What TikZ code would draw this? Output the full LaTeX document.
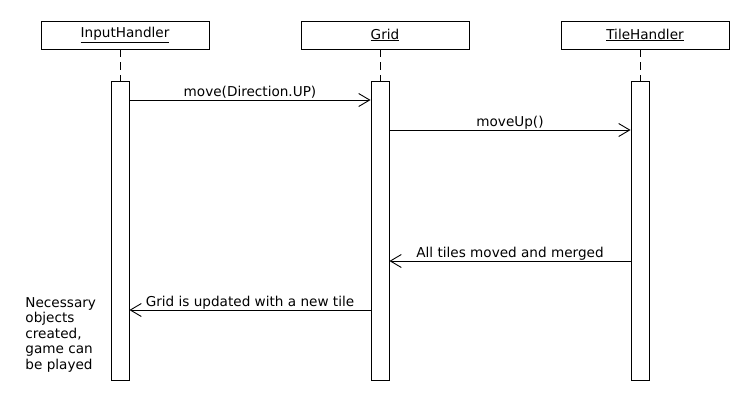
\documentclass[tikz,border=0pt]{standalone}
\usepackage{fontspec}
\setmainfont{DejaVu Sans}
\usetikzlibrary{arrows.meta}
\begin{document}
\begin{tikzpicture}
  [x=1pt,y=-1pt,line width=0.9pt,
   every node/.style={font=\fontsize{13.6}{15.5}\selectfont},
   obj/.style={draw,minimum width=168pt,minimum height=28pt,inner sep=0pt},
   act/.style={draw,fill=white,minimum width=18pt,minimum height=299pt,inner sep=0pt},
   msg/.style={-{Straight Barb[length=11pt,width=13pt]}},
   lbl/.style={anchor=base,yshift=3.5pt,inner sep=0pt}]
  \useasboundingbox (0,0) rectangle (750,400);

  \node[obj] (ih) at (125,35) {\underline{InputHandler}};
  \node[obj] (gr) at (385,35) {\underline{Grid}};
  \node[obj] (th) at (645,35) {\underline{TileHandler}};

  \node[act] (aih) at (120,230.5) {};
  \node[act] (agr) at (380,230.5) {};
  \node[act] (ath) at (640,230.5) {};

  \foreach \o/\a in {ih/aih,gr/agr,th/ath}
    \draw[dash pattern=on 8pt off 5pt] (\o.south -| \a) -- (\a.north);

  \draw[msg] (aih.east |- 0,100) -- node[lbl] {move(Direction.UP)} (agr.west |- 0,100);
  \draw[msg] (agr.east |- 0,130) -- node[lbl] {moveUp()} (ath.west |- 0,130);
  \draw[msg] (ath.west |- 0,261) -- node[lbl] {All tiles moved and merged} (agr.east |- 0,261);
  \draw[msg] (agr.west |- 0,310) -- node[lbl] {Grid is updated with a new tile} (aih.east |- 0,310);

  \node[align=left,anchor=north west,inner sep=0pt] (note) at (25,297)
    {Necessary\\objects\\created,\\game can\\be played};
\end{tikzpicture}
\end{document}
